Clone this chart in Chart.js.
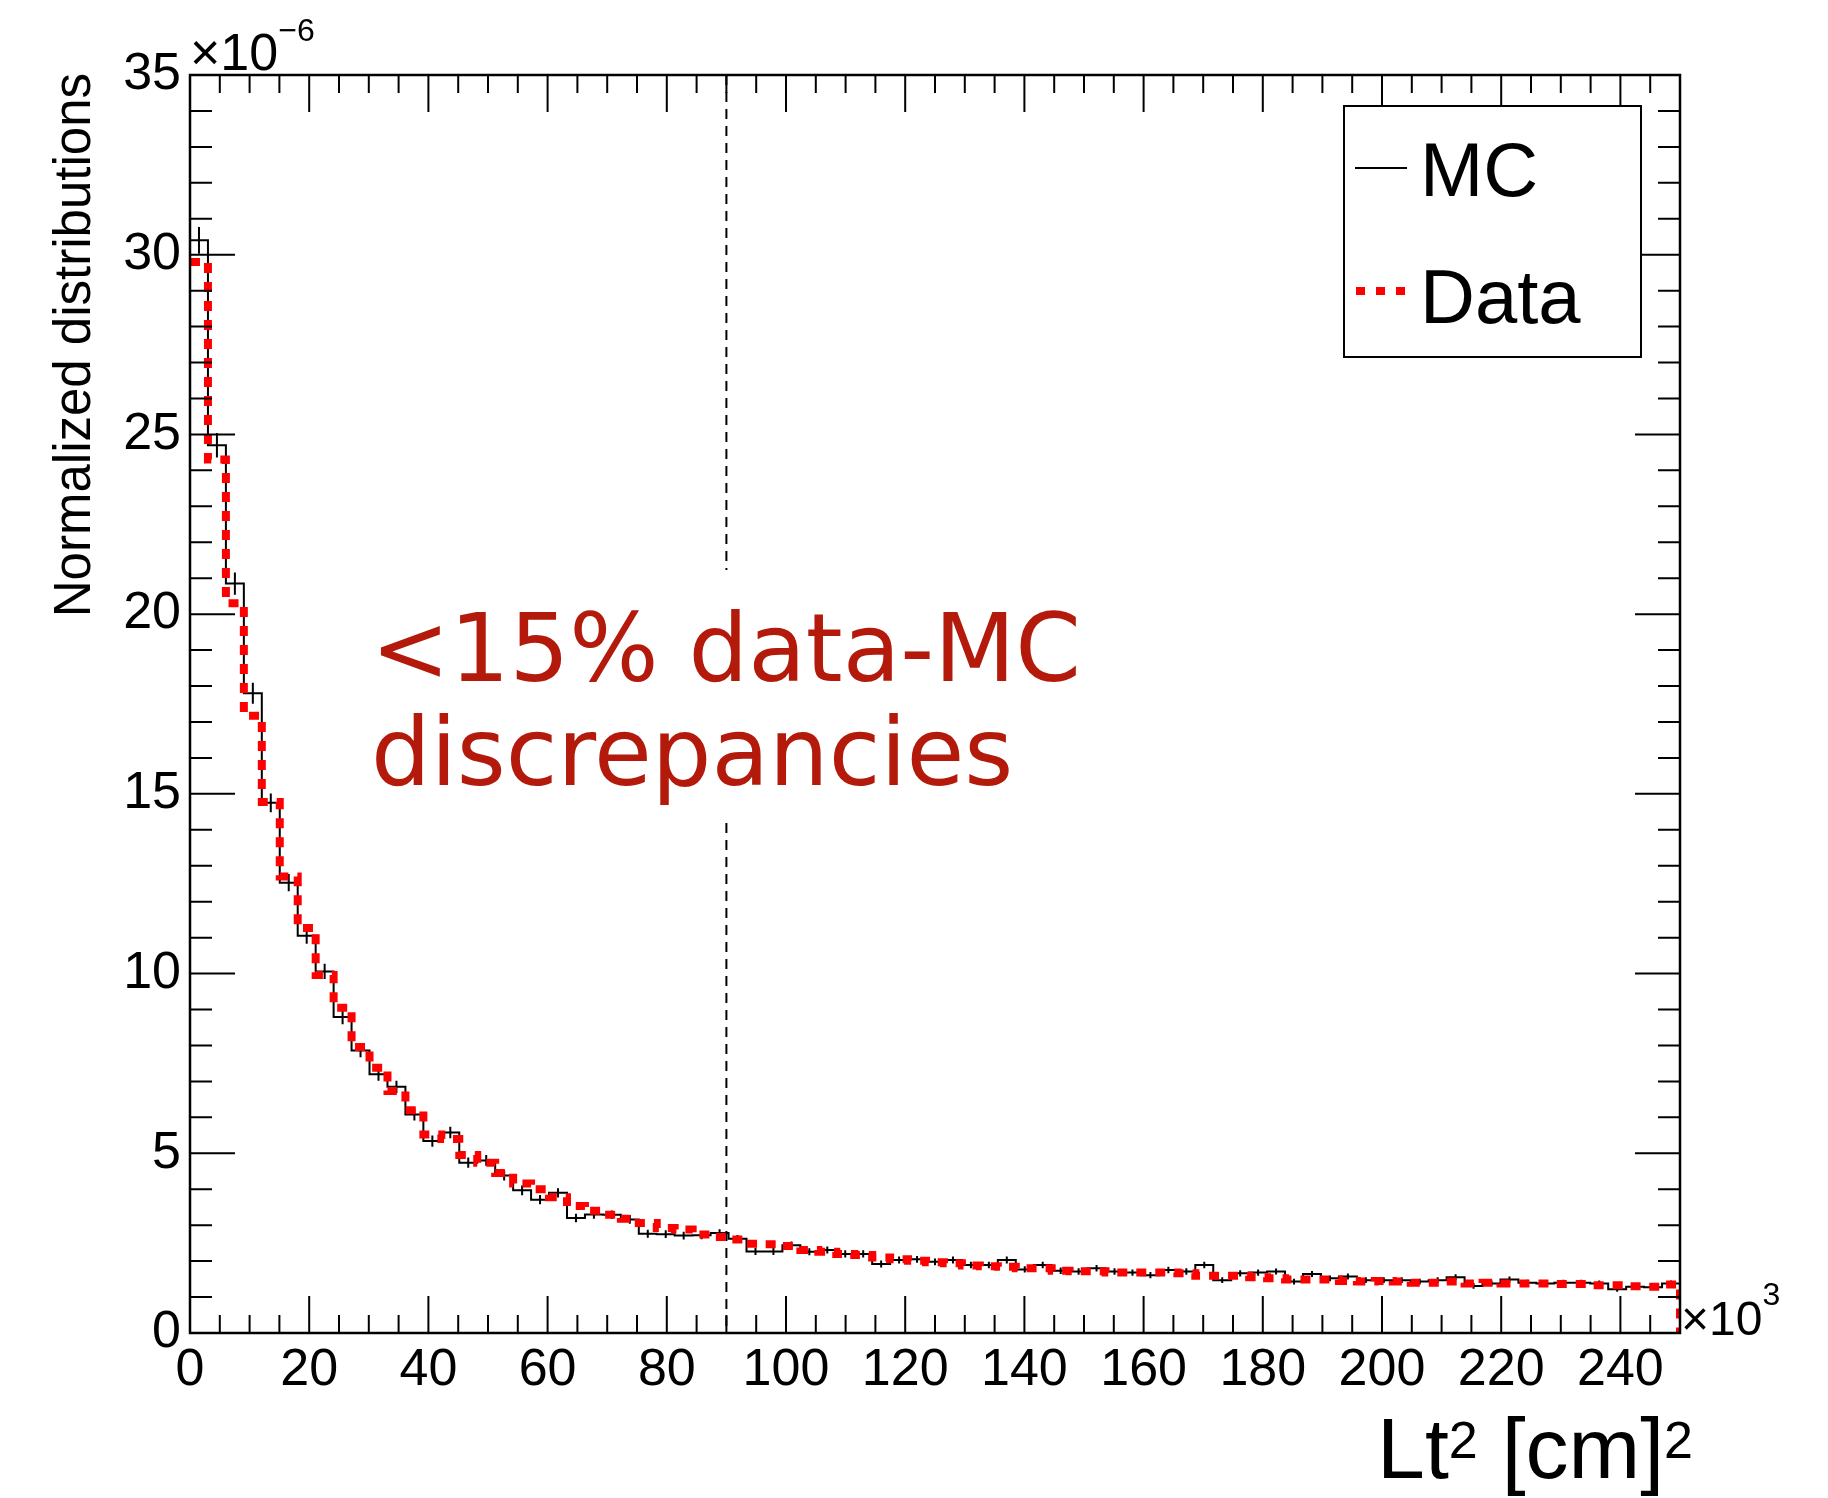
<!DOCTYPE html>
<html>
<head>
<meta charset="utf-8">
<script src="https://cdn.jsdelivr.net/npm/chart.js@4.4.1/dist/chart.umd.min.js"></script>
<style>
  html, body { margin: 0; padding: 0; background: #fff; }
  #wrap { width: 1828px; height: 1498px; }
</style>
</head>
<body>
<div id="wrap"><canvas id="chart" width="1828" height="1498"></canvas></div>
<script>
// x range of the histograms, in units of 10^3 cm^2
const xMin = 0;
const xMax = 250;

// MC bin contents (units of 10^-6)
const mcValues = [
    30.4, 24.7, 20.85, 17.8, 14.75, 12.53, 11.05, 10.06, 8.79, 7.86,
    7.2, 6.85, 6.08, 5.34, 5.58, 4.74, 4.8, 4.38, 3.97, 3.71,
    3.9, 3.2, 3.3, 3.29, 3.16, 2.76, 2.75, 2.71, 2.72, 2.78,
    2.62, 2.27, 2.27, 2.44, 2.26, 2.31, 2.2, 2.2, 1.92, 2.03,
    2.05, 1.98, 2.03, 1.89, 1.89, 2.03, 1.77, 1.89, 1.73, 1.71,
    1.8, 1.71, 1.68, 1.61, 1.75, 1.71, 1.89, 1.47, 1.66, 1.68,
    1.71, 1.43, 1.64, 1.52, 1.57, 1.47, 1.47, 1.47, 1.43, 1.47,
    1.55, 1.31, 1.38, 1.49, 1.4, 1.38, 1.4, 1.4, 1.38, 1.22,
    1.29, 1.27, 1.38
];

// MC statistical errors (vertical bars of the "+" marks)
const mcErrors = [
    0.37, 0.34, 0.31, 0.29, 0.26, 0.24, 0.22, 0.21, 0.2, 0.19,
    0.18, 0.17, 0.165, 0.155, 0.16, 0.145, 0.15, 0.14, 0.135, 0.13,
    0.13, 0.12, 0.12, 0.12, 0.12, 0.11, 0.11, 0.11, 0.11, 0.11,
    0.11, 0.1, 0.1, 0.105, 0.1, 0.1, 0.1, 0.1, 0.095, 0.095,
    0.095, 0.095, 0.095, 0.09, 0.09, 0.095, 0.09, 0.09, 0.09, 0.09,
    0.09, 0.09, 0.09, 0.085, 0.09, 0.09, 0.09, 0.08, 0.085, 0.085,
    0.085, 0.08, 0.085, 0.08, 0.085, 0.08, 0.08, 0.08, 0.08, 0.08,
    0.085, 0.08, 0.08, 0.08, 0.08, 0.08, 0.08, 0.08, 0.08, 0.075,
    0.075, 0.075, 0.08
];

// Data bin contents (units of 10^-6)
const dataValues = [
    29.8, 24.3, 20.3, 17.17, 14.77, 12.7, 11.27, 9.96, 9.05, 7.96,
    7.38, 6.73, 6.2, 5.52, 5.4, 4.95, 4.74, 4.45, 4.16, 4.0,
    3.78, 3.53, 3.4, 3.29, 3.18, 3.06, 2.92, 2.88, 2.74, 2.67,
    2.6, 2.48, 2.47, 2.42, 2.31, 2.26, 2.2, 2.17, 2.1, 2.05,
    2.01, 1.97, 1.94, 1.88, 1.86, 1.84, 1.8, 1.8, 1.73, 1.72,
    1.72, 1.68, 1.68, 1.68, 1.68, 1.66, 1.59, 1.59, 1.59, 1.55,
    1.52, 1.49, 1.49, 1.49, 1.45, 1.43, 1.45, 1.43, 1.4, 1.4,
    1.43, 1.38, 1.4, 1.38, 1.38, 1.38, 1.36, 1.36, 1.33, 1.33,
    1.3, 1.29, 1.35
];

const seriesNames = ['MC', 'Data'];
const xTickLabels = [0, 20, 40, 60, 80, 100, 120, 140, 160, 180, 200, 220, 240];
const yTickLabels = [0, 5, 10, 15, 20, 25, 30, 35];
const xMinorStep = 5;
const yMinorStep = 1;
const cutValue = 90;
const noteLines = ['<15% data-MC', 'discrepancies'];

const rootFont = '"Liberation Sans", Arial, Helvetica, sans-serif';
const noteColor = '#b31a0b';

// histogram outline: one point per bin low edge, then close at xMax
const binWidth = (xMax - xMin) / mcValues.length;
function stepPoints(values) {
    const pts = values.map((v, i) => ({ x: xMin + i * binWidth, y: v }));
    pts.push({ x: xMax, y: values[values.length - 1] });
    pts.push({ x: xMax, y: 0 });
    return pts;
}

function drawSuper(ctx, parts, x, y, align) {
    // parts: [text, size, raise]
    let total = 0;
    parts.forEach(p => {
        ctx.font = p[1] + 'px ' + rootFont;
        total += ctx.measureText(p[0]).width;
    });
    let cx = align === 'right' ? x - total : x;
    ctx.textAlign = 'left';
    ctx.textBaseline = 'alphabetic';
    parts.forEach(p => {
        ctx.font = p[1] + 'px ' + rootFont;
        ctx.fillText(p[0], cx, y - p[2]);
        cx += ctx.measureText(p[0]).width;
    });
}

const rootStyle = {
    id: 'rootStyle',
    beforeDatasetsDraw(chart) {
        const { ctx, chartArea: a, scales: { x } } = chart;
        // vertical cut line
        const xc = x.getPixelForValue(cutValue);
        ctx.save();
        ctx.strokeStyle = '#000';
        ctx.lineWidth = 2;
        ctx.setLineDash([10, 7]);
        ctx.beginPath();
        ctx.moveTo(xc, a.top);
        ctx.lineTo(xc, a.bottom);
        ctx.stroke();
        ctx.setLineDash([]);

        // annotation with white background
        ctx.font = '94px "DejaVu Sans", Verdana, sans-serif';
        const tx = a.left + 181;
        const w = Math.max(...noteLines.map(t => ctx.measureText(t).width));
        ctx.fillStyle = '#fff';
        ctx.fillRect(tx - 8, 570, w + 16, 250);
        ctx.fillStyle = noteColor;
        ctx.textAlign = 'left';
        ctx.textBaseline = 'alphabetic';
        ctx.fillText(noteLines[0], tx, 681);
        ctx.fillText(noteLines[1], tx, 785);
        ctx.restore();
    },
    afterDatasetDraw(chart, args) {
        if (args.index !== 0) return;
        const { ctx, scales: { x, y } } = chart;
        ctx.save();
        ctx.strokeStyle = '#000';
        ctx.lineWidth = 2;
        ctx.beginPath();
        mcValues.forEach((v, i) => {
            const px = x.getPixelForValue(xMin + (i + 0.5) * binWidth);
            ctx.moveTo(px, y.getPixelForValue(v - mcErrors[i]));
            ctx.lineTo(px, y.getPixelForValue(v + mcErrors[i]));
        });
        ctx.stroke();
        ctx.restore();
    },
    afterDatasetsDraw(chart) {
        const { ctx, chartArea: a, scales: { x, y } } = chart;
        ctx.save();
        ctx.strokeStyle = '#000';
        // ticks inside the frame on all four sides
        ctx.lineWidth = 2;
        ctx.beginPath();
        for (let v = xMin; v <= xMax; v += xMinorStep) {
            const px = x.getPixelForValue(v);
            const len = v % 20 === 0 ? 37 : 18;
            ctx.moveTo(px, a.bottom); ctx.lineTo(px, a.bottom - len);
            ctx.moveTo(px, a.top); ctx.lineTo(px, a.top + len);
        }
        for (let v = 0; v <= 35; v += yMinorStep) {
            const py = y.getPixelForValue(v);
            const len = v % 5 === 0 ? 45 : 22;
            ctx.moveTo(a.left, py); ctx.lineTo(a.left + len, py);
            ctx.moveTo(a.right, py); ctx.lineTo(a.right - len, py);
        }
        ctx.stroke();
        ctx.lineWidth = 2.5;
        ctx.strokeRect(a.left, a.top, a.right - a.left, a.bottom - a.top);

        // legend box
        ctx.fillStyle = '#fff';
        ctx.fillRect(1344, 106, 297, 251);
        ctx.lineWidth = 2;
        ctx.strokeRect(1344, 106, 297, 251);
        const ds = chart.data.datasets;
        ctx.strokeStyle = ds[0].borderColor;
        ctx.lineWidth = 2;
        ctx.beginPath(); ctx.moveTo(1355, 168); ctx.lineTo(1407, 168); ctx.stroke();
        ctx.strokeStyle = ds[1].borderColor;
        ctx.lineWidth = 8;
        ctx.setLineDash([9, 11]);
        ctx.beginPath(); ctx.moveTo(1356, 291); ctx.lineTo(1410, 291); ctx.stroke();
        ctx.setLineDash([]);
        ctx.fillStyle = '#000';
        ctx.font = '76px ' + rootFont;
        ctx.textAlign = 'left';
        ctx.textBaseline = 'alphabetic';
        ctx.fillText(ds[0].label, 1420, 196);
        ctx.fillText(ds[1].label, 1420, 323);
        ctx.restore();
    },
    afterDraw(chart) {
        const { ctx, chartArea: a } = chart;
        ctx.save();
        ctx.fillStyle = '#000';
        // y title, right aligned at the top of the axis
        ctx.translate(90, a.top - 2);
        ctx.rotate(-Math.PI / 2);
        ctx.font = '51px ' + rootFont;
        ctx.textAlign = 'right';
        ctx.textBaseline = 'alphabetic';
        ctx.fillText('Normalized distributions', 0, 0);
        ctx.restore();

        ctx.save();
        ctx.fillStyle = '#000';
        drawSuper(ctx, [['Lt', 86, 0], ['2', 52, 20], [' [cm]', 86, 0], ['2', 52, 20]], 1693, 1478, 'right');
        drawSuper(ctx, [['\u00d710', 52, 0], ['\u22126', 32, 29]], a.left, 70, 'left');
        drawSuper(ctx, [['\u00d710', 48, 0], ['3', 32, 30]], a.right + 1, 1335, 'left');
        ctx.restore();
    }
};

new Chart(document.getElementById('chart'), {
    type: 'line',
    data: {
        datasets: [
            {
                label: seriesNames[0],
                data: stepPoints(mcValues),
                borderColor: '#000000',
                borderWidth: 2,
                stepped: true,
                pointRadius: 0,
                fill: false,
                order: 1
            },
            {
                label: seriesNames[1],
                data: stepPoints(dataValues),
                borderColor: '#ff0000',
                borderWidth: 8,
                borderDash: [10, 9],
                borderCapStyle: 'butt',
                stepped: true,
                pointRadius: 0,
                fill: false,
                order: 0
            }
        ]
    },
    options: {
        responsive: false,
        animation: false,
        layout: { padding: { top: 75, right: 148, left: 0, bottom: 0 } },
        plugins: { legend: { display: false }, tooltip: { enabled: false } },
        scales: {
            x: {
                type: 'linear',
                min: xMin,
                max: xMax,
                afterBuildTicks: s => { s.ticks = xTickLabels.map(v => ({ value: v })); },
                afterFit: s => { s.height = 165; },
                grid: { display: false, drawTicks: false },
                border: { display: false },
                ticks: {
                    padding: 6,
                    maxRotation: 0,
                    autoSkip: false,
                    color: '#000',
                    font: { family: rootFont, size: 52 }
                }
            },
            y: {
                type: 'linear',
                min: 0,
                max: 35,
                afterBuildTicks: s => { s.ticks = yTickLabels.map(v => ({ value: v })); },
                afterFit: s => { s.width = 190; },
                grid: { display: false, drawTicks: false },
                border: { display: false },
                ticks: {
                    padding: 9,
                    color: '#000',
                    font: { family: rootFont, size: 52 }
                }
            }
        }
    },
    plugins: [rootStyle]
});
</script>
</body>
</html>
